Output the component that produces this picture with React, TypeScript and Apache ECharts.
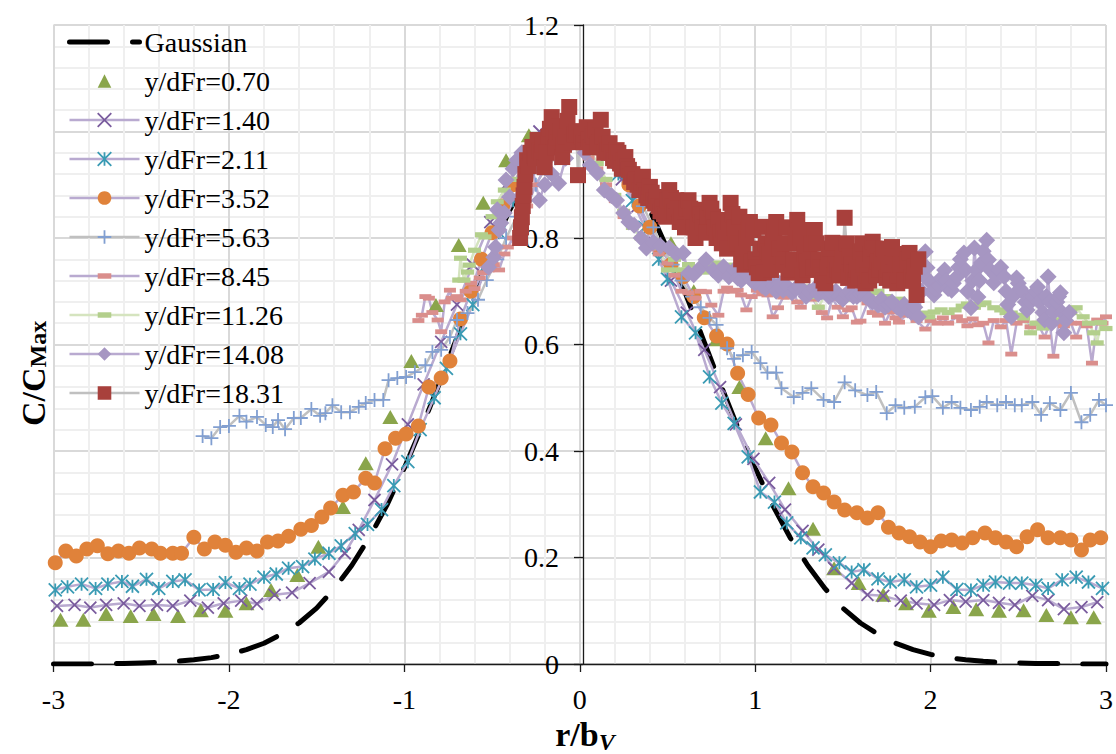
import React, { useEffect, useRef } from 'react';
import * as echarts from 'echarts';

type P = [number, number];

const xTicks = [-3, -2, -1, 0, 1, 2, 3];
const yTicks = [0, 0.2, 0.4, 0.6, 0.8, 1, 1.2];

const gaussian: P[] = [
  [-3.0, 0.0], [-2.9, 0.0], [-2.8, 0.0], [-2.7, 0.001], [-2.6, 0.001], [-2.5, 0.002], [-2.4, 0.003], [-2.3, 0.005],
  [-2.2, 0.008], [-2.1, 0.012], [-2.0, 0.018], [-1.9, 0.027], [-1.8, 0.039], [-1.7, 0.056], [-1.6, 0.077], [-1.5, 0.105],
  [-1.4, 0.141], [-1.3, 0.185], [-1.2, 0.237], [-1.1, 0.298], [-1.0, 0.368], [-0.9, 0.445], [-0.8, 0.527], [-0.7, 0.613],
  [-0.6, 0.698], [-0.5, 0.779], [-0.4, 0.852], [-0.3, 0.914], [-0.2, 0.961], [-0.1, 0.99], [0.0, 1.0],
  [0.1, 0.99], [0.2, 0.961], [0.3, 0.914], [0.4, 0.852], [0.5, 0.779], [0.6, 0.698], [0.7, 0.613], [0.8, 0.527],
  [0.9, 0.445], [1.0, 0.368], [1.1, 0.298], [1.2, 0.237], [1.3, 0.185], [1.4, 0.141], [1.5, 0.105], [1.6, 0.077],
  [1.7, 0.056], [1.8, 0.039], [1.9, 0.027], [2.0, 0.018], [2.1, 0.012], [2.2, 0.008], [2.3, 0.005], [2.4, 0.003],
  [2.5, 0.002], [2.6, 0.001], [2.7, 0.001], [2.8, 0.0], [2.9, 0.0], [3.0, 0.0],
];

const s070: P[] = [
  [-2.96, 0.083], [-2.83, 0.083], [-2.7, 0.094], [-2.56, 0.09], [-2.43, 0.094], [-2.29, 0.09], [-2.16, 0.101], [-2.02, 0.1],
  [-1.9, 0.114], [-1.76, 0.139], [-1.61, 0.167], [-1.49, 0.22], [-1.35, 0.295], [-1.22, 0.377], [-1.08, 0.464], [-0.96, 0.569],
  [-0.82, 0.674], [-0.69, 0.787], [-0.55, 0.866], [-0.42, 0.946], [-0.29, 0.993], [-0.16, 1.0], [-0.02, 0.99], [0.11, 0.97],
  [0.25, 0.93], [0.38, 0.87], [0.52, 0.79], [0.65, 0.7], [0.78, 0.61], [0.91, 0.52], [1.06, 0.424], [1.19, 0.33],
  [1.33, 0.254], [1.45, 0.18], [1.59, 0.152], [1.73, 0.13], [1.86, 0.114], [1.99, 0.1], [2.13, 0.107], [2.26, 0.103],
  [2.39, 0.1], [2.53, 0.101], [2.66, 0.092], [2.8, 0.088], [2.93, 0.088],
];

const s140: P[] = [
  [-2.98, 0.109], [-2.88, 0.111], [-2.79, 0.106], [-2.7, 0.111], [-2.6, 0.114], [-2.51, 0.109], [-2.41, 0.111], [-2.32, 0.109],
  [-2.22, 0.119], [-2.12, 0.106], [-2.03, 0.114], [-1.93, 0.119], [-1.84, 0.113], [-1.74, 0.13], [-1.64, 0.134], [-1.54, 0.152],
  [-1.43, 0.173], [-1.34, 0.208], [-1.26, 0.252], [-1.17, 0.308], [-1.07, 0.375], [-0.98, 0.45], [-0.89, 0.525], [-0.79, 0.605],
  [-0.7, 0.675], [-0.61, 0.75], [-0.51, 0.83], [-0.42, 0.9], [-0.32, 0.95], [-0.23, 1.0], [-0.14, 1.0], [-0.04, 0.99],
  [0.05, 0.98], [0.14, 0.95], [0.24, 0.91], [0.33, 0.86], [0.43, 0.79], [0.52, 0.72], [0.61, 0.66], [0.71, 0.59],
  [0.8, 0.52], [0.89, 0.45], [0.99, 0.385], [1.08, 0.34], [1.17, 0.29], [1.27, 0.25], [1.36, 0.215], [1.45, 0.18],
  [1.55, 0.152], [1.64, 0.13], [1.73, 0.128], [1.83, 0.119], [1.92, 0.114], [2.02, 0.111], [2.11, 0.12], [2.2, 0.117],
  [2.3, 0.12], [2.39, 0.115], [2.48, 0.111], [2.58, 0.128], [2.67, 0.12], [2.76, 0.103], [2.86, 0.107], [2.95, 0.116],
];

const s211: P[] = [
  [-2.99, 0.139], [-2.92, 0.145], [-2.84, 0.15], [-2.76, 0.142], [-2.69, 0.15], [-2.61, 0.155], [-2.55, 0.146], [-2.47, 0.159],
  [-2.4, 0.142], [-2.32, 0.155], [-2.25, 0.158], [-2.17, 0.139], [-2.09, 0.14], [-2.02, 0.153], [-1.94, 0.142], [-1.88, 0.15],
  [-1.8, 0.163], [-1.73, 0.169], [-1.66, 0.18], [-1.58, 0.183], [-1.51, 0.197], [-1.43, 0.208], [-1.36, 0.222], [-1.28, 0.245],
  [-1.21, 0.262], [-1.13, 0.29], [-1.06, 0.335], [-0.98, 0.38], [-0.91, 0.44], [-0.83, 0.5], [-0.76, 0.555], [-0.68, 0.62],
  [-0.61, 0.675], [-0.53, 0.75], [-0.46, 0.81], [-0.38, 0.87], [-0.31, 0.92], [-0.23, 0.96], [-0.16, 0.985], [-0.08, 1.0],
  [0.0, 1.0], [0.07, 0.99], [0.15, 0.96], [0.22, 0.92], [0.3, 0.87], [0.37, 0.82], [0.45, 0.76], [0.5, 0.723],
  [0.58, 0.652], [0.66, 0.622], [0.74, 0.539], [0.81, 0.49], [0.88, 0.452], [0.96, 0.389], [1.03, 0.323], [1.11, 0.304],
  [1.18, 0.265], [1.26, 0.237], [1.33, 0.218], [1.4, 0.205], [1.48, 0.19], [1.55, 0.173], [1.62, 0.177], [1.7, 0.16],
  [1.77, 0.154], [1.85, 0.158], [1.92, 0.145], [2.0, 0.148], [2.07, 0.163], [2.15, 0.14], [2.23, 0.139], [2.3, 0.148],
  [2.37, 0.154], [2.45, 0.152], [2.52, 0.152], [2.6, 0.148], [2.67, 0.142], [2.75, 0.158], [2.83, 0.163], [2.9, 0.154],
  [2.98, 0.142],
];

const s352: P[] = [
  [-2.99, 0.19], [-2.93, 0.212], [-2.87, 0.203], [-2.81, 0.216], [-2.75, 0.222], [-2.69, 0.207], [-2.63, 0.212], [-2.57, 0.208],
  [-2.51, 0.218], [-2.44, 0.216], [-2.39, 0.208], [-2.32, 0.208], [-2.27, 0.208], [-2.2, 0.238], [-2.14, 0.216], [-2.08, 0.229],
  [-2.02, 0.223], [-1.96, 0.21], [-1.9, 0.218], [-1.84, 0.212], [-1.78, 0.229], [-1.72, 0.231], [-1.66, 0.24], [-1.59, 0.253],
  [-1.53, 0.26], [-1.47, 0.276], [-1.42, 0.293], [-1.35, 0.317], [-1.29, 0.323], [-1.22, 0.349], [-1.17, 0.34], [-1.11, 0.404],
  [-1.05, 0.424], [-0.99, 0.432], [-0.92, 0.447], [-0.86, 0.52], [-0.79, 0.537], [-0.74, 0.569], [-0.68, 0.648], [-0.62, 0.7],
  [-0.56, 0.76], [-0.5, 0.81], [-0.44, 0.86], [-0.38, 0.9], [-0.32, 0.94], [-0.26, 0.97], [-0.2, 0.985], [-0.14, 0.995],
  [-0.08, 1.0], [-0.02, 1.0], [0.04, 0.995], [0.1, 0.985], [0.16, 0.965], [0.22, 0.94], [0.28, 0.9], [0.34, 0.86],
  [0.4, 0.82], [0.46, 0.78], [0.52, 0.75], [0.59, 0.727], [0.65, 0.69], [0.71, 0.65], [0.78, 0.616], [0.84, 0.601],
  [0.9, 0.546], [0.96, 0.506], [1.02, 0.462], [1.09, 0.449], [1.15, 0.415], [1.21, 0.398], [1.27, 0.359], [1.33, 0.333],
  [1.39, 0.321], [1.45, 0.304], [1.51, 0.289], [1.58, 0.284], [1.64, 0.274], [1.7, 0.284], [1.76, 0.257], [1.82, 0.246],
  [1.88, 0.239], [1.94, 0.229], [2.0, 0.22], [2.06, 0.231], [2.12, 0.233], [2.18, 0.227], [2.24, 0.237], [2.31, 0.246],
  [2.37, 0.237], [2.43, 0.229], [2.49, 0.22], [2.55, 0.239], [2.61, 0.252], [2.67, 0.237], [2.74, 0.237], [2.8, 0.233],
  [2.86, 0.214], [2.91, 0.233], [2.97, 0.237],
];

const s563: P[] = [
  [-2.15, 0.428], [-2.1, 0.424], [-2.05, 0.445], [-2.0, 0.447], [-1.94, 0.466], [-1.9, 0.455], [-1.84, 0.464], [-1.79, 0.449],
  [-1.75, 0.445], [-1.72, 0.458], [-1.68, 0.441], [-1.63, 0.462], [-1.59, 0.462], [-1.53, 0.479], [-1.48, 0.466], [-1.45, 0.471],
  [-1.41, 0.486], [-1.36, 0.473], [-1.31, 0.473], [-1.26, 0.483], [-1.22, 0.49], [-1.17, 0.496], [-1.12, 0.496], [-1.09, 0.533],
  [-1.04, 0.537], [-0.99, 0.539], [-0.94, 0.548], [-0.88, 0.561], [-0.84, 0.586], [-0.79, 0.59], [-0.74, 0.614], [-0.7, 0.646],
  [-0.64, 0.659], [-0.58, 0.684], [-0.53, 0.721], [-0.47, 0.76], [-0.42, 0.8], [-0.36, 0.84], [-0.31, 0.87], [-0.25, 0.9],
  [-0.2, 0.93], [-0.14, 0.95], [-0.09, 0.97], [-0.03, 0.98], [0.03, 0.985], [0.08, 0.98], [0.14, 0.97], [0.2, 0.975],
  [0.25, 0.94], [0.31, 0.9], [0.36, 0.86], [0.42, 0.82], [0.47, 0.78], [0.53, 0.75], [0.58, 0.72], [0.64, 0.69],
  [0.69, 0.67], [0.74, 0.65], [0.78, 0.637], [0.84, 0.593], [0.88, 0.573], [0.93, 0.58], [0.98, 0.586], [1.03, 0.565],
  [1.07, 0.547], [1.12, 0.547], [1.15, 0.518], [1.22, 0.501], [1.27, 0.509], [1.32, 0.518], [1.39, 0.496], [1.45, 0.492],
  [1.51, 0.529], [1.57, 0.514], [1.64, 0.505], [1.69, 0.511], [1.75, 0.471], [1.8, 0.486], [1.85, 0.481], [1.91, 0.483],
  [1.97, 0.501], [2.01, 0.503], [2.07, 0.481], [2.12, 0.492], [2.17, 0.481], [2.23, 0.477], [2.28, 0.483], [2.32, 0.492],
  [2.38, 0.486], [2.43, 0.492], [2.48, 0.486], [2.52, 0.486], [2.58, 0.492], [2.63, 0.468], [2.68, 0.49], [2.74, 0.477],
  [2.8, 0.509], [2.86, 0.454], [2.91, 0.468], [2.96, 0.496], [3.0, 0.486],
];

const s845: P[] = [
  [-0.92, 0.645], [-0.9, 0.655], [-0.88, 0.69], [-0.86, 0.687], [-0.84, 0.66], [-0.81, 0.646], [-0.79, 0.624], [-0.77, 0.68],
  [-0.74, 0.702], [-0.73, 0.687], [-0.7, 0.69], [-0.68, 0.684], [-0.65, 0.7], [-0.62, 0.715], [-0.6, 0.705], [-0.57, 0.725],
  [-0.55, 0.735], [-0.52, 0.74], [-0.49, 0.75], [-0.46, 0.74], [-0.43, 0.77], [-0.41, 0.783], [-0.38, 0.8], [-0.34, 0.83],
  [-0.3, 0.86], [-0.25, 0.9], [-0.2, 0.93], [-0.15, 0.95], [-0.1, 0.97], [-0.05, 0.98], [0.0, 0.97], [0.05, 0.95],
  [0.1, 0.93], [0.15, 0.9], [0.2, 0.87], [0.25, 0.84], [0.3, 0.82], [0.35, 0.8], [0.4, 0.78], [0.45, 0.77],
  [0.5, 0.753], [0.54, 0.73], [0.58, 0.7], [0.62, 0.697], [0.66, 0.687], [0.69, 0.7], [0.72, 0.699], [0.75, 0.674],
  [0.79, 0.655], [0.82, 0.7], [0.84, 0.706], [0.87, 0.7], [0.9, 0.702], [0.92, 0.693], [0.95, 0.665], [0.98, 0.69],
  [1.01, 0.702], [1.04, 0.695], [1.07, 0.693], [1.1, 0.652], [1.13, 0.669], [1.16, 0.689], [1.19, 0.689], [1.22, 0.699],
  [1.24, 0.68], [1.26, 0.67], [1.3, 0.695], [1.33, 0.685], [1.36, 0.67], [1.38, 0.66], [1.41, 0.65], [1.44, 0.687],
  [1.47, 0.67], [1.5, 0.652], [1.53, 0.665], [1.55, 0.669], [1.58, 0.642], [1.6, 0.644], [1.64, 0.678], [1.67, 0.66],
  [1.7, 0.655], [1.72, 0.669], [1.74, 0.64], [1.77, 0.661], [1.8, 0.65], [1.82, 0.642], [1.86, 0.655], [1.89, 0.659],
  [1.92, 0.645], [1.97, 0.629], [2.0, 0.645], [2.04, 0.64], [2.07, 0.65], [2.1, 0.64], [2.15, 0.652], [2.18, 0.645],
  [2.21, 0.635], [2.24, 0.648], [2.27, 0.637], [2.3, 0.64], [2.33, 0.603], [2.36, 0.645], [2.4, 0.633], [2.43, 0.645],
  [2.46, 0.582], [2.49, 0.64], [2.53, 0.645], [2.57, 0.633], [2.61, 0.64], [2.65, 0.614], [2.68, 0.64], [2.7, 0.578],
  [2.73, 0.64], [2.76, 0.635], [2.8, 0.64], [2.83, 0.614], [2.86, 0.64], [2.89, 0.635], [2.92, 0.565], [2.95, 0.646],
  [2.98, 0.64], [3.0, 0.652],
];

const s1126: P[] = [
  [-0.69, 0.721], [-0.68, 0.762], [-0.66, 0.721], [-0.64, 0.736], [-0.63, 0.749], [-0.6, 0.777], [-0.56, 0.806], [-0.54, 0.802],
  [-0.5, 0.84], [-0.47, 0.868], [-0.43, 0.89], [-0.39, 0.91], [-0.35, 0.93], [-0.3, 0.95], [-0.25, 0.96], [-0.2, 0.98],
  [-0.15, 0.99], [-0.1, 0.99], [-0.05, 1.0], [0.0, 0.99], [0.05, 0.97], [0.1, 0.94], [0.15, 0.91], [0.2, 0.88],
  [0.25, 0.85], [0.3, 0.82], [0.35, 0.8], [0.4, 0.79], [0.45, 0.783], [0.5, 0.74], [0.54, 0.76], [0.57, 0.74],
  [0.62, 0.75], [0.66, 0.74], [0.7, 0.736], [0.74, 0.745], [0.78, 0.753], [0.82, 0.74], [0.87, 0.749], [0.9, 0.735],
  [0.93, 0.73], [0.97, 0.72], [1.01, 0.712], [1.04, 0.72], [1.08, 0.721], [1.12, 0.71], [1.17, 0.702], [1.21, 0.71],
  [1.25, 0.7], [1.29, 0.708], [1.33, 0.69], [1.36, 0.67], [1.4, 0.693], [1.44, 0.69], [1.48, 0.695], [1.52, 0.685],
  [1.56, 0.69], [1.6, 0.695], [1.64, 0.69], [1.67, 0.697], [1.7, 0.7], [1.74, 0.69], [1.78, 0.68], [1.82, 0.685],
  [1.86, 0.675], [1.9, 0.67], [1.95, 0.659], [1.99, 0.652], [2.02, 0.661], [2.06, 0.665], [2.1, 0.66], [2.14, 0.665],
  [2.18, 0.672], [2.21, 0.676], [2.25, 0.67], [2.28, 0.675], [2.31, 0.678], [2.36, 0.669], [2.4, 0.665], [2.43, 0.66],
  [2.46, 0.659], [2.5, 0.655], [2.53, 0.65], [2.57, 0.622], [2.6, 0.64], [2.64, 0.631], [2.68, 0.64], [2.72, 0.646],
  [2.76, 0.655], [2.8, 0.66], [2.83, 0.669], [2.87, 0.652], [2.9, 0.64], [2.93, 0.622], [2.95, 0.603], [2.97, 0.641],
  [3.0, 0.63],
];

const s1408: P[] = [
  [-0.52, 0.745], [-0.49, 0.764], [-0.48, 0.783], [-0.47, 0.853], [-0.46, 0.815], [-0.45, 0.828], [-0.43, 0.847], [-0.42, 0.909],
  [-0.4, 0.877], [-0.38, 0.93], [-0.36, 0.946], [-0.33, 0.96], [-0.3, 0.95], [-0.27, 0.93], [-0.23, 0.871], [-0.2, 0.9],
  [-0.16, 0.92], [-0.12, 0.903], [-0.08, 0.95], [-0.04, 0.98], [0.0, 1.0], [0.03, 0.96], [0.06, 0.937], [0.1, 0.922],
  [0.14, 0.89], [0.18, 0.88], [0.21, 0.871], [0.25, 0.847], [0.28, 0.83], [0.31, 0.824], [0.35, 0.8], [0.38, 0.781],
  [0.42, 0.792], [0.46, 0.785], [0.51, 0.781], [0.55, 0.77], [0.59, 0.772], [0.62, 0.734], [0.65, 0.731], [0.69, 0.745],
  [0.72, 0.759], [0.76, 0.74], [0.79, 0.73], [0.82, 0.746], [0.85, 0.727], [0.88, 0.74], [0.9, 0.725], [0.92, 0.72],
  [0.94, 0.735], [0.96, 0.73], [0.98, 0.72], [1.0, 0.715], [1.02, 0.725], [1.04, 0.71], [1.06, 0.705], [1.08, 0.72],
  [1.1, 0.71], [1.12, 0.7], [1.14, 0.715], [1.16, 0.702], [1.18, 0.71], [1.21, 0.697], [1.23, 0.705], [1.25, 0.71],
  [1.27, 0.7], [1.29, 0.69], [1.31, 0.7], [1.34, 0.705], [1.36, 0.695], [1.38, 0.699], [1.4, 0.71], [1.42, 0.69],
  [1.44, 0.695], [1.46, 0.7], [1.48, 0.69], [1.5, 0.685], [1.52, 0.695], [1.54, 0.7], [1.56, 0.69], [1.58, 0.69],
  [1.6, 0.695], [1.61, 0.699], [1.63, 0.69], [1.65, 0.685], [1.67, 0.68], [1.7, 0.674], [1.72, 0.685], [1.74, 0.67],
  [1.76, 0.675], [1.78, 0.68], [1.81, 0.67], [1.83, 0.665], [1.85, 0.675], [1.87, 0.665], [1.89, 0.66], [1.91, 0.67],
  [1.93, 0.652], [1.95, 0.7], [1.96, 0.73], [1.97, 0.774], [1.98, 0.744], [1.99, 0.72], [2.0, 0.717], [2.01, 0.7],
  [2.02, 0.693], [2.03, 0.705], [2.05, 0.71], [2.06, 0.725], [2.08, 0.74], [2.09, 0.72], [2.1, 0.705], [2.12, 0.702],
  [2.13, 0.715], [2.15, 0.727], [2.16, 0.745], [2.17, 0.76], [2.19, 0.772], [2.2, 0.74], [2.21, 0.7], [2.23, 0.669],
  [2.24, 0.72], [2.25, 0.781], [2.26, 0.74], [2.27, 0.689], [2.28, 0.72], [2.29, 0.753], [2.3, 0.775], [2.32, 0.796],
  [2.33, 0.759], [2.34, 0.74], [2.36, 0.716], [2.37, 0.73], [2.39, 0.74], [2.4, 0.745], [2.42, 0.727], [2.43, 0.7],
  [2.44, 0.675], [2.46, 0.652], [2.47, 0.69], [2.49, 0.725], [2.5, 0.715], [2.51, 0.705], [2.53, 0.697], [2.54, 0.68],
  [2.55, 0.665], [2.57, 0.68], [2.58, 0.69], [2.6, 0.7], [2.61, 0.708], [2.62, 0.68], [2.64, 0.66], [2.65, 0.646],
  [2.66, 0.69], [2.67, 0.727], [2.68, 0.68], [2.69, 0.64], [2.7, 0.66], [2.72, 0.68], [2.73, 0.69], [2.74, 0.697],
  [2.75, 0.66], [2.76, 0.622], [2.77, 0.645], [2.79, 0.66],
];

const s1831: P[] = [
  [-0.34, 0.8], [-0.335, 0.82], [-0.33, 0.839], [-0.325, 0.86], [-0.32, 0.88], [-0.315, 0.896], [-0.31, 0.92], [-0.3, 0.946],
  [-0.29, 0.935], [-0.28, 0.96], [-0.27, 0.971], [-0.26, 0.955], [-0.25, 0.95], [-0.24, 0.984], [-0.23, 0.965], [-0.22, 0.96],
  [-0.21, 0.975], [-0.2, 0.933], [-0.19, 0.96], [-0.18, 0.99], [-0.17, 1.005], [-0.16, 1.027], [-0.15, 0.99], [-0.14, 0.97],
  [-0.13, 0.989], [-0.12, 1.01], [-0.11, 1.0], [-0.1, 0.952], [-0.09, 0.975], [-0.08, 0.99], [-0.07, 1.02], [-0.06, 1.046],
  [-0.05, 1.0], [-0.04, 0.98], [-0.03, 0.995], [-0.02, 1.0], [-0.01, 0.918], [0.0, 1.0], [0.01, 0.99], [0.02, 0.98],
  [0.03, 0.995], [0.04, 1.008], [0.05, 0.985], [0.06, 0.97], [0.07, 0.995], [0.08, 0.99], [0.09, 1.002], [0.1, 0.975],
  [0.11, 0.98], [0.12, 1.022], [0.13, 0.99], [0.14, 0.96], [0.15, 0.975], [0.16, 0.965], [0.17, 0.978], [0.18, 0.96],
  [0.19, 0.95], [0.2, 0.945], [0.21, 0.965], [0.22, 0.96], [0.23, 0.94], [0.24, 0.93], [0.25, 0.945], [0.26, 0.952],
  [0.27, 0.935], [0.28, 0.928], [0.29, 0.915], [0.3, 0.92], [0.31, 0.905], [0.32, 0.909], [0.33, 0.9], [0.34, 0.89],
  [0.35, 0.905], [0.36, 0.915], [0.37, 0.89], [0.38, 0.88], [0.39, 0.875], [0.4, 0.896], [0.41, 0.885], [0.42, 0.87],
  [0.43, 0.865], [0.44, 0.877], [0.45, 0.86], [0.46, 0.85], [0.47, 0.858], [0.48, 0.845], [0.49, 0.84], [0.5, 0.87],
  [0.51, 0.89], [0.52, 0.875], [0.53, 0.86], [0.54, 0.85], [0.55, 0.871], [0.56, 0.855], [0.57, 0.83], [0.58, 0.84],
  [0.59, 0.847], [0.6, 0.82], [0.61, 0.855], [0.62, 0.871], [0.63, 0.855], [0.64, 0.84], [0.65, 0.82], [0.66, 0.8],
  [0.67, 0.83], [0.68, 0.853], [0.69, 0.845], [0.7, 0.83], [0.71, 0.82], [0.72, 0.81], [0.73, 0.84], [0.74, 0.866],
  [0.75, 0.855], [0.76, 0.84], [0.77, 0.82], [0.78, 0.8], [0.79, 0.834], [0.8, 0.81], [0.81, 0.79], [0.82, 0.815],
  [0.83, 0.8], [0.84, 0.78], [0.85, 0.83], [0.86, 0.866], [0.87, 0.845], [0.88, 0.82], [0.89, 0.8], [0.9, 0.79],
  [0.91, 0.84], [0.92, 0.76], [0.93, 0.77], [0.94, 0.75], [0.95, 0.8], [0.96, 0.815], [0.97, 0.83], [0.98, 0.755],
  [0.99, 0.815], [1.0, 0.76], [1.01, 0.745], [1.02, 0.734], [1.03, 0.78], [1.04, 0.821], [1.05, 0.735], [1.06, 0.79],
  [1.07, 0.775], [1.08, 0.77], [1.09, 0.74], [1.1, 0.8], [1.11, 0.815], [1.12, 0.83], [1.13, 0.75], [1.14, 0.78],
  [1.15, 0.765], [1.16, 0.75], [1.17, 0.79], [1.18, 0.82], [1.19, 0.735], [1.2, 0.79], [1.21, 0.74], [1.22, 0.76],
  [1.23, 0.8], [1.24, 0.834], [1.25, 0.815], [1.26, 0.8], [1.27, 0.73], [1.28, 0.77], [1.29, 0.755], [1.3, 0.74],
  [1.31, 0.77], [1.32, 0.79], [1.33, 0.745], [1.34, 0.815], [1.35, 0.79], [1.36, 0.76], [1.37, 0.745], [1.38, 0.73],
  [1.39, 0.72], [1.4, 0.715], [1.41, 0.745], [1.42, 0.77], [1.43, 0.78], [1.44, 0.791], [1.45, 0.73], [1.46, 0.75],
  [1.47, 0.74], [1.48, 0.73], [1.49, 0.75], [1.5, 0.77], [1.51, 0.838], [1.52, 0.79], [1.53, 0.725], [1.54, 0.765],
  [1.55, 0.75], [1.56, 0.735], [1.57, 0.72], [1.58, 0.74], [1.59, 0.725], [1.6, 0.775], [1.61, 0.79], [1.62, 0.75],
  [1.63, 0.715], [1.64, 0.73], [1.65, 0.72], [1.66, 0.77], [1.67, 0.793], [1.68, 0.78], [1.69, 0.73], [1.7, 0.755],
  [1.71, 0.74], [1.72, 0.76], [1.73, 0.78], [1.74, 0.77], [1.75, 0.725], [1.76, 0.74], [1.77, 0.72], [1.78, 0.783],
  [1.79, 0.765], [1.8, 0.75], [1.81, 0.715], [1.82, 0.73], [1.83, 0.75], [1.84, 0.77], [1.85, 0.72], [1.86, 0.75],
  [1.87, 0.76], [1.88, 0.772], [1.89, 0.725], [1.9, 0.72], [1.91, 0.746], [1.92, 0.693], [1.93, 0.76],
];

const seriesNames = [
  'Gaussian', 'y/dFr=0.70', 'y/dFr=1.40', 'y/dFr=2.11', 'y/dFr=3.52', 'y/dFr=5.63',
  'y/dFr=8.45', 'y/dFr=11.26', 'y/dFr=14.08', 'y/dFr=18.31',
];

const FONT = '"Liberation Serif", "Times New Roman", serif';
const LP = '#b9aad0';
const GRAY = '#c0c0c0';
const LGREEN = '#d5e4bf';

const X_SYM = 'path://M0,0L10,10M10,0L0,10';
const AST_SYM = 'path://M0,0L10,10M10,0L0,10M5,0L5,10';
const PLUS_SYM = 'path://M5,0L5,10M0,5L10,5';
const DASH_SYM = 'path://M0,0M0,3.6L12,3.6L12,8.4L0,8.4ZM12,12';

function line(name: string, data: P[], o: any) {
  return {
    type: 'line',
    name,
    data,
    silent: true,
    showAllSymbol: true,
    symbol: o.symbol,
    symbolSize: o.size,
    itemStyle: o.itemStyle,
    lineStyle: o.lineStyle,
    z: 2,
  };
}

export default function App() {
  const ref = useRef<HTMLDivElement>(null);
  useEffect(() => {
    const chart = echarts.init(ref.current!, null, { renderer: 'svg' });
    const series: any[] = [
      line(seriesNames[0], gaussian, {
        symbol: 'none', size: 0, itemStyle: { color: '#000' },
        lineStyle: { color: '#000', width: 5, type: [38, 25], cap: 'round' },
      }),
      line(seriesNames[1], s070, {
        symbol: 'triangle', size: [16, 14], itemStyle: { color: '#8aa54b', borderWidth: 0 },
        lineStyle: { width: 0, color: '#8aa54b' },
      }),
      line(seriesNames[2], s140, {
        symbol: X_SYM, size: 12, itemStyle: { color: '#7a5c9e', borderColor: '#7a5c9e', borderWidth: 1.8 },
        lineStyle: { width: 2.5, color: LP },
      }),
      line(seriesNames[3], s211, {
        symbol: AST_SYM, size: 13, itemStyle: { color: '#3a9bb4', borderColor: '#3a9bb4', borderWidth: 1.8 },
        lineStyle: { width: 2.5, color: LP },
      }),
      line(seriesNames[4], s352, {
        symbol: 'circle', size: 15, itemStyle: { color: '#e0823a', borderWidth: 0 },
        lineStyle: { width: 2.5, color: LP },
      }),
      line(seriesNames[5], s563, {
        symbol: PLUS_SYM, size: 14, itemStyle: { color: '#819fd1', borderColor: '#819fd1', borderWidth: 1.8 },
        lineStyle: { width: 2.5, color: GRAY },
      }),
      line(seriesNames[6], s845, {
        symbol: DASH_SYM, size: 12, itemStyle: { color: '#da8e8c', borderWidth: 0 },
        lineStyle: { width: 2.5, color: LP },
      }),
      line(seriesNames[7], s1126, {
        symbol: DASH_SYM, size: 13, itemStyle: { color: '#b3cf8c', borderWidth: 0 },
        lineStyle: { width: 2.5, color: LGREEN },
      }),
      line(seriesNames[8], s1408, {
        symbol: 'diamond', size: 17, itemStyle: { color: '#a696c2', borderWidth: 0 },
        lineStyle: { width: 2.5, color: LP },
      }),
      line(seriesNames[9], s1831, {
        symbol: 'rect', size: 16, itemStyle: { color: '#a8403c', borderWidth: 0 },
        lineStyle: { width: 2.5, color: GRAY },
      }),
    ];

    const option: any = {
      animation: false,
      textStyle: { fontFamily: FONT },
      grid: { left: 53.5, right: 5, top: 25, bottom: 90, containLabel: false },
      xAxis: {
        type: 'value',
        min: xTicks[0],
        max: xTicks[xTicks.length - 1],
        interval: 1,
        axisLine: { onZero: true, lineStyle: { color: '#1a1a1a', width: 1.3 } },
        axisTick: { show: true, inside: false, length: 8, lineStyle: { color: '#1a1a1a', width: 1.3 } },
        axisLabel: { fontSize: 28, color: '#000', fontFamily: FONT, margin: 21 },
        splitLine: { show: true, lineStyle: { color: '#d9d9d9', width: 2 } },
        minorTick: { show: false, splitNumber: 5 },
        minorSplitLine: { show: true, lineStyle: { color: '#efefef', width: 2 } },
      },
      yAxis: {
        type: 'value',
        min: yTicks[0],
        max: yTicks[yTicks.length - 1],
        interval: 0.2,
        offset: -529.5,
        axisLine: { onZero: false, lineStyle: { color: '#1a1a1a', width: 1.3 } },
        axisTick: { show: true, inside: false, length: 9, lineStyle: { color: '#1a1a1a', width: 1.3 } },
        axisLabel: { fontSize: 28, color: '#000', fontFamily: FONT, margin: 24 },
        splitLine: { show: true, lineStyle: { color: '#d9d9d9', width: 2 } },
        minorTick: { show: false, splitNumber: 5 },
        minorSplitLine: { show: true, lineStyle: { color: '#efefef', width: 2 } },
      },
      legend: {
        show: true,
        orient: 'vertical',
        left: 62,
        top: 23,
        padding: 5,
        itemWidth: 70,
        itemHeight: 17,
        itemGap: 11,
        selectedMode: false,
        textStyle: { fontSize: 28, lineHeight: 28, color: '#000', fontFamily: FONT },
        lineStyle: { width: 'inherit' },
        itemStyle: { borderWidth: 'inherit' },
        data: seriesNames.map((n, i) => (i === 0 ? { name: n, itemStyle: { opacity: 0 } } : { name: n })),
      },
      graphic: [
        {
          type: 'text',
          x: 50,
          y: 426,
          rotation: Math.PI / 2,
          style: {
            text: '{a|C/C}{b|Max}',
            align: 'left',
            verticalAlign: 'bottom',
            fill: '#000',
            rich: {
              a: { fontFamily: FONT, fontSize: 34, fontWeight: 'bold', lineHeight: 34, verticalAlign: 'bottom' },
              b: { fontFamily: FONT, fontSize: 24, fontWeight: 'bold', lineHeight: 24, verticalAlign: 'bottom' },
            },
          },
        },
        {
          type: 'text',
          x: 585,
          y: 754,
          style: {
            text: '{a|r/b}{b|V}',
            align: 'center',
            verticalAlign: 'bottom',
            fill: '#000',
            rich: {
              a: { fontFamily: FONT, fontSize: 34, fontWeight: 'bold', lineHeight: 34, verticalAlign: 'bottom', padding: [0, 0, 3, 0] },
              b: { fontFamily: FONT, fontSize: 24, fontWeight: 'bold', fontStyle: 'italic', lineHeight: 24, verticalAlign: 'bottom' },
            },
          },
        },
      ],
      series,
    };
    chart.setOption(option);
    return () => chart.dispose();
  }, []);
  return <div ref={ref} style={{ position: 'absolute', left: 0, top: 0, width: 1116, height: 754 }} />;
}
